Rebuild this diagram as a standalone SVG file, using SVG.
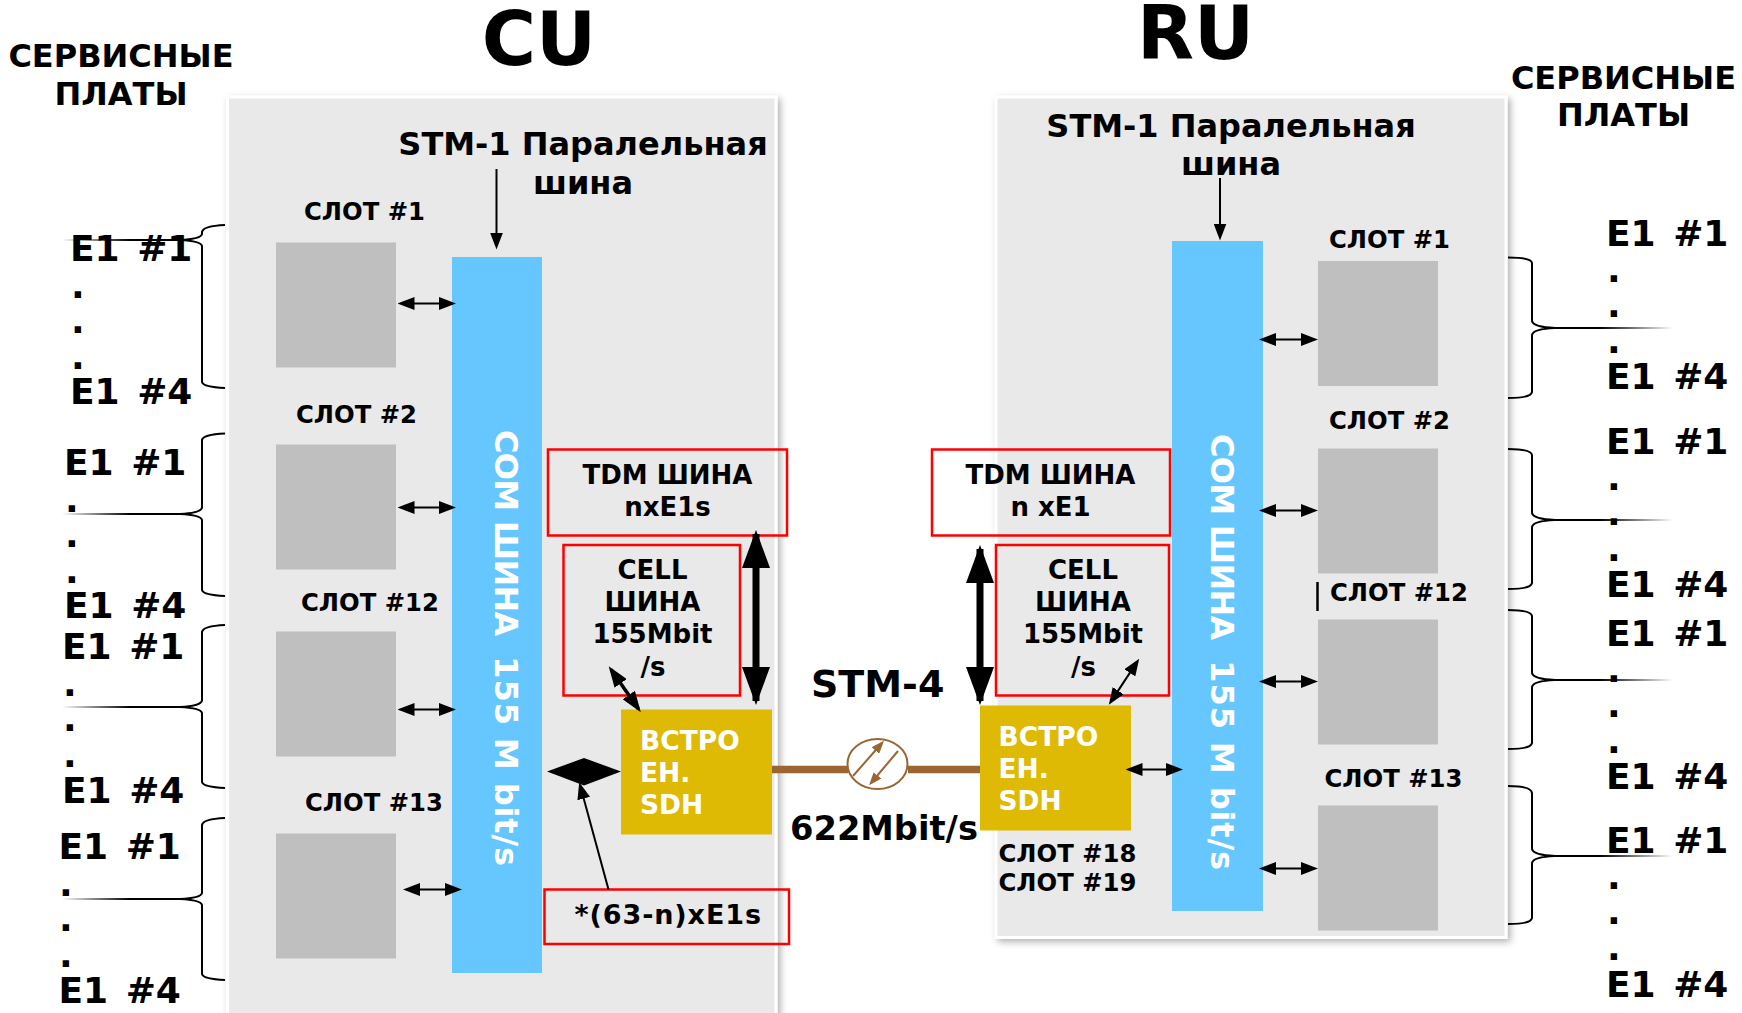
<svg xmlns="http://www.w3.org/2000/svg" width="1742" height="1013" viewBox="0 0 1742 1013">
<style>
text{font-family:"DejaVu Sans","Verdana",sans-serif;font-weight:bold;fill:#000;white-space:pre}
.m{text-anchor:middle}
.head{font-size:74px}
.serv{font-size:32px}
.stm{font-size:32px}
.slot{font-size:24.3px}
.e1{font-size:36px;word-spacing:5px}
.lbl{font-size:26px}
.rem{font-size:27px;letter-spacing:.9px}
.ye{font-size:26.5px;fill:#fff}
.bus{font-size:32px;fill:#fff}
.big{font-size:38px}
.rate{font-size:33.7px}
.panel{fill:#e9e9e9;stroke:#fff;stroke-width:3;filter:url(#sh)}
.slotbox{fill:#bfbfbf}
.busbox{fill:#66c7ff}
.yellow{fill:#dfba04}
.red{fill:none;stroke:#f00;stroke-width:2.5}
.brace{fill:none;stroke:#000;stroke-width:2}
.a{stroke:#000;stroke-width:2.2;fill:none;marker-start:url(#h);marker-end:url(#h)}
.a3{stroke:#000;stroke-width:3.5;fill:none;marker-start:url(#k);marker-end:url(#k)}
.a1{stroke:#000;stroke-width:2;fill:none;marker-end:url(#h)}
.thick{stroke:#000;stroke-width:7;fill:none;marker-start:url(#H);marker-end:url(#H)}
.brown{stroke:#996633;stroke-width:2;fill:none;marker-end:url(#b)}
</style>
<defs>
<filter id="sh" x="-5%" y="-5%" width="110%" height="110%"><feDropShadow dx="3" dy="3" stdDeviation="3.5" flood-color="#000" flood-opacity=".3"/></filter>
<marker id="h" markerUnits="userSpaceOnUse" markerWidth="17" markerHeight="13" refX="13" refY="6.5" orient="auto-start-reverse"><path d="M0 0L17 6.5L0 13z"/></marker>
<marker id="k" markerUnits="userSpaceOnUse" markerWidth="21" markerHeight="15" refX="17" refY="7.5" orient="auto-start-reverse"><path d="M0 0L21 7.5L0 15z"/></marker>
<marker id="H" markerUnits="userSpaceOnUse" markerWidth="38" markerHeight="28" refX="34" refY="14" orient="auto-start-reverse"><path d="M0 0L38 14L0 28z"/></marker>
<marker id="b" markerUnits="userSpaceOnUse" markerWidth="13" markerHeight="10" refX="10" refY="5" orient="auto"><path d="M0 0L13 5L0 10z" fill="#996633"/></marker>
<linearGradient id="fl" gradientUnits="userSpaceOnUse" x1="62" y1="0" x2="130" y2="0"><stop offset="0" stop-color="#000" stop-opacity="0"/><stop offset="1" stop-color="#000"/></linearGradient>
<linearGradient id="fr" gradientUnits="userSpaceOnUse" x1="1673" y1="0" x2="1600" y2="0"><stop offset="0" stop-color="#000" stop-opacity="0"/><stop offset="1" stop-color="#000"/></linearGradient>
</defs>
<rect width="1742" height="1013" fill="#fff"/>
<g id="cu-panel"><rect class="panel" x="227.500" y="97" width="548.500" height="930"/></g>
<g id="ru-panel"><rect class="panel" x="996" y="97" width="510" height="840.500"/></g>
<text class="head m" x="539" y="64.500">CU</text>
<text class="head m" x="1195.500" y="58.500">RU</text>
<g id="service-left"><text class="serv m" x="121" y="67">СЕРВИСНЫЕ</text><text class="serv m" x="121" y="105">ПЛАТЫ</text></g>
<g id="service-right"><text class="serv m" x="1623.500" y="88.500">СЕРВИСНЫЕ</text><text class="serv m" x="1623.500" y="126">ПЛАТЫ</text></g>
<g id="stm1-left"><text class="stm m" x="583" y="154.500">STM-1 Паралельная</text><text class="stm m" x="583" y="193.500">шина</text></g>
<g id="stm1-right"><text class="stm m" x="1231" y="136.500">STM-1 Паралельная</text><text class="stm m" x="1231" y="174.500">шина</text></g>
<g id="bus-left"><rect class="busbox" x="452" y="257" width="90" height="716"/><text class="bus" transform="translate(495 430) rotate(90)"><tspan letter-spacing="-.75">COM ШИНА  </tspan><tspan letter-spacing=".9">155 M bit/s</tspan></text></g>
<g id="bus-right"><rect class="busbox" x="1172" y="241" width="91" height="670"/><text class="bus" transform="translate(1211 434) rotate(90)"><tspan letter-spacing="-.75">COM ШИНА  </tspan><tspan letter-spacing=".9">155 M bit/s</tspan></text></g>
<g id="slot-l1"><text class="slot" x="304" y="219.500">СЛОТ #1</text><rect class="slotbox" x="276" y="242.500" width="120" height="125"/></g>
<g id="slot-l2"><text class="slot" x="296" y="422.500">СЛОТ #2</text><rect class="slotbox" x="276" y="444.500" width="120" height="125"/></g>
<g id="slot-l12"><text class="slot" x="301" y="610.500">СЛОТ #12</text><rect class="slotbox" x="276" y="631.500" width="120" height="125"/></g>
<g id="slot-l13"><text class="slot" x="305" y="811">СЛОТ #13</text><rect class="slotbox" x="276" y="833.500" width="120" height="125"/></g>
<g id="slot-r1"><text class="slot" x="1329" y="248">СЛОТ #1</text><rect class="slotbox" x="1318" y="261" width="120" height="125"/></g>
<g id="slot-r2"><text class="slot" x="1329" y="429">СЛОТ #2</text><rect class="slotbox" x="1318" y="448.500" width="120" height="125"/></g>
<g id="slot-r12"><text class="slot" x="1330" y="601">СЛОТ #12</text><rect class="slotbox" x="1318" y="619.500" width="120" height="125"/></g>
<g id="slot-r13"><text class="slot" x="1324.500" y="787">СЛОТ #13</text><rect class="slotbox" x="1318" y="805.500" width="120" height="125"/></g>
<g id="tdm-left"><rect class="red" x="548" y="449.500" width="239" height="86"/><text class="lbl m" x="667.500" y="483.500">TDM ШИНА</text><text class="lbl m" x="667.500" y="515.500">nxE1s</text></g>
<g id="tdm-right"><rect class="red" x="932" y="449.500" width="238" height="86"/><text class="lbl m" x="1050.500" y="483.500">TDM ШИНА</text><text class="lbl m" x="1050.500" y="515.500">n xE1</text></g>
<g id="cell-left"><rect class="red" x="563.500" y="545" width="176.500" height="150.500"/><text class="lbl m" x="652.500" y="579">CELL</text><text class="lbl m" x="652.500" y="611">ШИНА</text><text class="lbl m" x="652.500" y="643">155Mbit</text><text class="lbl m" x="653" y="675.500">/s</text></g>
<g id="cell-right"><rect class="red" x="996" y="545" width="173" height="150.500"/><text class="lbl m" x="1083" y="579">CELL</text><text class="lbl m" x="1083" y="611">ШИНА</text><text class="lbl m" x="1083" y="643">155Mbit</text><text class="lbl m" x="1083.500" y="675.500">/s</text></g>
<g id="sdh-left"><rect class="yellow" x="621" y="709.500" width="151" height="125"/><text class="ye" x="640" y="749.500">ВСТРО</text><text class="ye" x="640" y="781.500">ЕН.</text><text class="ye" x="640" y="813.500">SDH</text></g>
<g id="sdh-right"><rect class="yellow" x="980" y="705.500" width="151" height="125"/><text class="ye" x="998.500" y="746">ВСТРО</text><text class="ye" x="998.500" y="777.500">ЕН.</text><text class="ye" x="998.500" y="809.500">SDH</text></g>
<g id="slots-18-19"><text class="slot" x="998.500" y="861.500">СЛОТ #18</text><text class="slot" x="998.500" y="890.500">СЛОТ #19</text></g>
<g id="remainder"><rect class="red" x="544.500" y="889.500" width="244.500" height="54.500"/><text class="rem" x="574.500" y="923.500">*(63-n)xE1s</text></g>
<text class="big" x="811" y="697">STM-4</text>
<text class="rate" x="790" y="840">622Mbit/s</text>
<g id="e1-l1"><text class="e1" x="70" y="261">E1 #1</text><text class="e1" x="71" y="298">.</text><text class="e1" x="71" y="333">.</text><text class="e1" x="71" y="369">.</text><text class="e1" x="70" y="404">E1 #4</text></g>
<g id="e1-l2"><text class="e1" x="64" y="475">E1 #1</text><text class="e1" x="65" y="512">.</text><text class="e1" x="65" y="547">.</text><text class="e1" x="65" y="583">.</text><text class="e1" x="64" y="618">E1 #4</text></g>
<g id="e1-l3"><text class="e1" x="62" y="659">E1 #1</text><text class="e1" x="63" y="696">.</text><text class="e1" x="63" y="731">.</text><text class="e1" x="63" y="767">.</text><text class="e1" x="62" y="803">E1 #4</text></g>
<g id="e1-l4"><text class="e1" x="58.500" y="859">E1 #1</text><text class="e1" x="59" y="896">.</text><text class="e1" x="59" y="931">.</text><text class="e1" x="59" y="967">.</text><text class="e1" x="58.500" y="1003">E1 #4</text></g>
<g id="e1-r1"><text class="e1" x="1606" y="246">E1 #1</text><text class="e1" x="1607" y="282">.</text><text class="e1" x="1607" y="317">.</text><text class="e1" x="1607" y="353">.</text><text class="e1" x="1606" y="389">E1 #4</text></g>
<g id="e1-r2"><text class="e1" x="1606" y="454">E1 #1</text><text class="e1" x="1607" y="490">.</text><text class="e1" x="1607" y="525">.</text><text class="e1" x="1607" y="561">.</text><text class="e1" x="1606" y="597">E1 #4</text></g>
<g id="e1-r3"><text class="e1" x="1606" y="646">E1 #1</text><text class="e1" x="1607" y="682">.</text><text class="e1" x="1607" y="717">.</text><text class="e1" x="1607" y="753">.</text><text class="e1" x="1606" y="789">E1 #4</text></g>
<g id="e1-r4"><text class="e1" x="1606" y="853">E1 #1</text><text class="e1" x="1607" y="889">.</text><text class="e1" x="1607" y="924">.</text><text class="e1" x="1607" y="960">.</text><text class="e1" x="1606" y="997">E1 #4</text></g>
<g id="connectors">
<path class="brace" d="M225 225Q203 226 202 232V234Q201 239 180 240Q201 241 202 246V382Q203 387 225 388"/>
<path class="brace" d="M225 433.500Q203 434.500 202 440V507.500Q201 513 180 514Q201 515 202 520V590Q203 595 225 596"/>
<path class="brace" d="M225 625Q203 626 202 632V700.500Q201 706 180 707Q201 708 202 713V782Q203 787 225 788"/>
<path class="brace" d="M225 818Q203 819 202 825V893Q201 898 180 899Q201 900 202 905V974Q203 979 225 980"/>
<path stroke="url(#fl)" stroke-width="2" d="M62 240H182M62 514H182M62 707H182M62 899H182"/>
<path class="brace" d="M1508 257.500Q1531 257.500 1532 263V321Q1533 327 1555 328Q1533 329 1532 335V392Q1531 398 1508 398"/>
<path class="brace" d="M1508 449Q1531 449 1532 455V513Q1533 519 1555 520Q1533 521 1532 527V583Q1531 589 1508 589"/>
<path class="brace" d="M1508 610Q1531 610 1532 616V673Q1533 679 1555 680Q1533 681 1532 687V743Q1531 749 1508 749"/>
<path class="brace" d="M1508 786Q1531 786 1532 793V849Q1533 855 1555 856Q1533 857 1532 863V918Q1531 924 1508 924"/>
<path stroke="url(#fr)" stroke-width="2" d="M1673 328H1553M1673 520H1553M1673 680H1553M1673 856H1553"/>
<path class="a1" d="M496.500 169V245.500"/>
<path class="a1" d="M1220 178V236.500"/>
<path class="a" d="M401.500 303.500H452"/>
<path class="a" d="M401.500 507.500H452"/>
<path class="a" d="M401.500 709.500H452"/>
<path class="a" d="M407 889.500H458"/>
<path class="a" d="M1263 339.500H1314"/>
<path class="a" d="M1263 510.500H1314"/>
<path class="a" d="M1263 681.500H1314"/>
<path class="a" d="M1263 868.500H1314"/>
<path class="a" d="M1129.500 769.500H1179"/>
<path class="a3" d="M611 669.500L638.500 709"/>
<path class="a" d="M1111 701.500L1137 662"/>
<path class="a1" d="M608.500 889.500L580.300 786"/>
<path d="M547 771.500L584 758L621 771.500L584 785.500z"/>
<path class="thick" d="M756 534V701"/>
<path class="thick" d="M980 549V701"/>
<path stroke="#996633" stroke-width="7.500" d="M772 769.500H848M908 769.500H980"/>
<ellipse cx="877.500" cy="764" rx="30" ry="25" fill="#fff" stroke="#996633" stroke-width="2"/>
<path class="brown" d="M853 776L882 743"/>
<path class="brown" d="M898 751L871 783"/>
<path stroke="#000" stroke-width="2.500" d="M1317.500 582V611"/>
</g>
</svg>
